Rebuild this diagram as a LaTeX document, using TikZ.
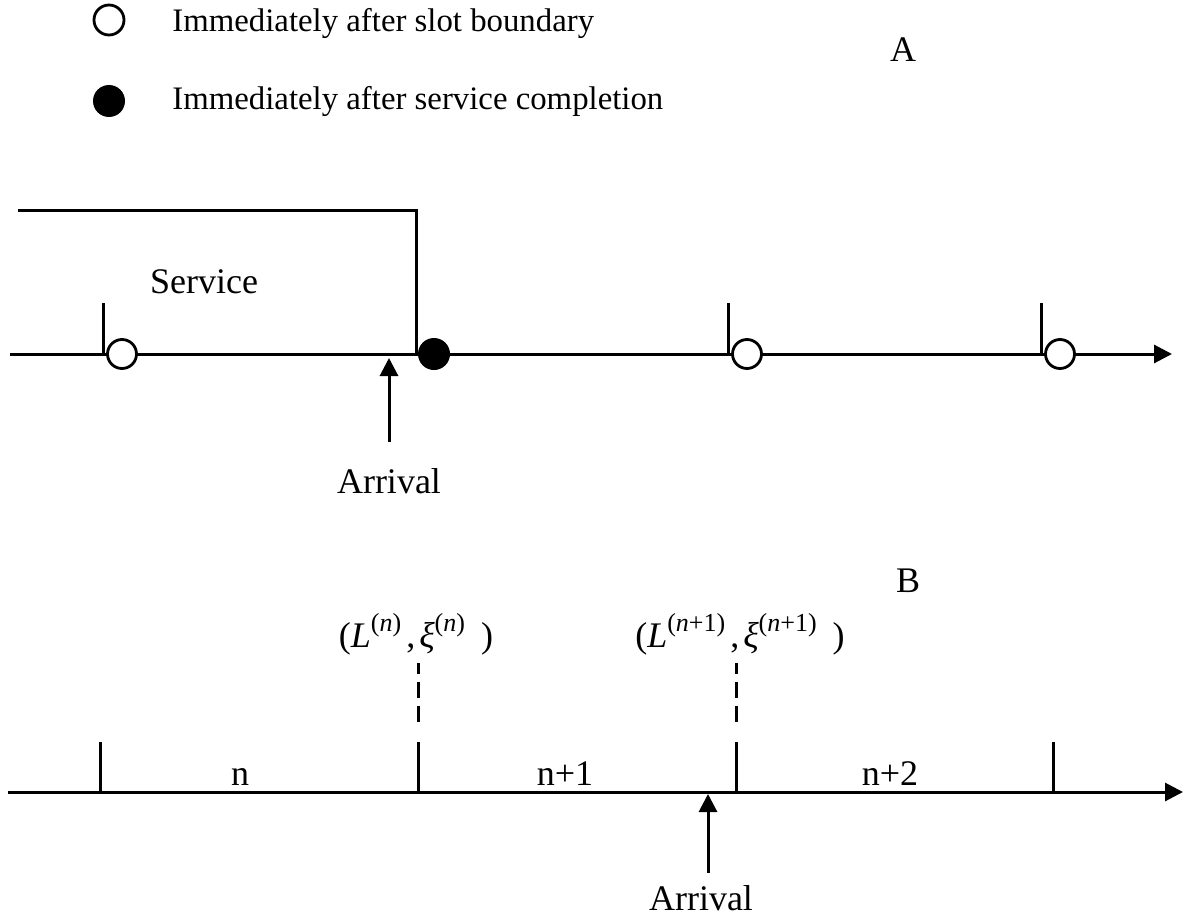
\documentclass[tikz,border=0pt]{standalone}
\usepackage{fontspec}
\setmainfont{Liberation Serif}
\usetikzlibrary{arrows.meta,positioning}
\newcommand{\supsc}[1]{\raisebox{0.42em}{\fontsize{13}{15}\selectfont #1}}

\begin{document}
\begin{tikzpicture}[
  x=0.5pt,y=-0.5pt,
  txt/.style={inner sep=0pt,font=\fontsize{18}{22}\selectfont},
  legendtxt/.style={inner sep=0pt,anchor=base west,font=\fontsize{16.4}{20}\selectfont},
  opendot/.style={circle,draw,line width=1.4pt,fill=white,minimum size=14.5pt,inner sep=0pt},
  fulldot/.style={circle,fill=black,minimum size=16pt,inner sep=0pt},
  line/.style={line width=1.5pt},
  arrow/.style={line width=1.5pt,-{Triangle[length=9pt,width=9pt]}}
]
  \useasboundingbox (0,0) rectangle (1193,920);

  % Legend
  \node[opendot,minimum size=15pt] (lgopen) at (109,20) {};
  \node[fulldot] (lgfull) at (109,101) {};
  \node[legendtxt] (lgopentxt) at (172,32) {Immediately after slot boundary};
  \node[legendtxt] (lgfulltxt) at (172,110) {Immediately after service completion};

  % Part A
  \node[txt] (partA) at (903,50) {A};
  \coordinate (astart) at (10,354);
  \coordinate (aend) at (1172,354);
  \coordinate (svstart) at (18,210);
  \coordinate (svcorner) at (416,210);
  \coordinate (svend) at (416,354);
  \draw[arrow] (astart) -- (aend);
  \draw[line] (svstart) -- (svcorner) -- (svend);
  \node[txt,anchor=base] (service) at (204,293) {Service};
  \foreach \x/\c [count=\i] in {103/122,728/747,1041/1060}{
    \draw[line] (\x,303) -- (\x,354);
    \node[opendot] (slotA\i) at (\c,354) {};
  }
  \node[fulldot] (done) at (434,354) {};
  \coordinate (arrAtail) at (389,442);
  \coordinate (arrAtip) at (389,358);
  \draw[arrow] (arrAtail) -- (arrAtip);
  \node[txt,anchor=north] (arrivalA) at (389,468) {Arrival};

  % Part B
  \node[txt,anchor=base] (partB) at (908,592) {B};
  \coordinate (bstart) at (8,792);
  \coordinate (bend) at (1183,792);
  \draw[arrow] (bstart) -- (bend);
  \foreach \x [count=\i] in {100,418,736,1053}{
    \coordinate (tickB\i) at (\x,742);
    \draw[line] (tickB\i) -- (\x,792);
  }
  \draw[line,dash pattern=on 8pt off 4pt] (tickB2) ++(0,-20) coordinate (dashtop2) -- ++(0,-59);
  \draw[line,dash pattern=on 8pt off 4pt] (tickB3) ++(0,-20) coordinate (dashtop3) -- ++(0,-59);
  \node[txt,anchor=base] (stateN) at (416,647)
    {(\textit{L}\supsc{(\textit{n})}\hspace{2.5pt},\hspace{2pt}\textit{ξ}\supsc{(\textit{n})}\hspace{8pt})};
  \node[txt,anchor=base] (stateN1) at (740,647)
    {(\textit{L}\supsc{(\textit{n}+1)}\hspace{2.5pt},\hspace{2pt}\textit{ξ}\supsc{(\textit{n}+1)}\hspace{8pt})};
  \node[txt,anchor=base] (slotn) at (240,785) {n};
  \node[txt,anchor=base] (slotn1) at (565,785) {n+1};
  \node[txt,anchor=base] (slotn2) at (890,785) {n+2};
  \coordinate (arrBtail) at (708,873);
  \coordinate (arrBtip) at (708,794);
  \draw[arrow] (arrBtail) -- (arrBtip);
  \node[txt,anchor=north] (arrivalB) at (701,885) {Arrival};
\end{tikzpicture}
\end{document}
